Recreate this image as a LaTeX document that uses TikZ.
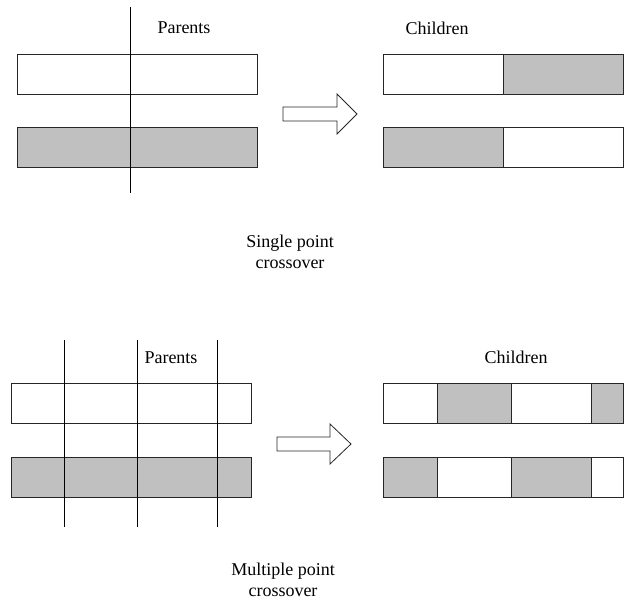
\documentclass[tikz,border=0pt]{standalone}
\usepackage{fontspec}
\setmainfont{Liberation Serif}
\begin{document}
\begin{tikzpicture}[x=1pt,y=-1pt,
  cell/.style={draw=black!85,line width=0.8pt,inner sep=0pt,outer sep=0pt,minimum height=40pt},
  wh/.style={cell,fill=white},
  cut/.style={draw=black,line width=0.8pt},
  bigarrow/.style={draw=black!85,line width=0.8pt,fill=white},
  lbl/.style={font=\fontsize{18}{21}\selectfont,align=center,inner sep=0pt}]
\useasboundingbox (0,0) rectangle (628,601);
\definecolor{cellgray}{HTML}{C0C0C0}
\tikzset{gr/.style={cell,fill=cellgray}}
% ---- single point ----
\node[wh,minimum width=240pt] (sp1) at (137,74) {};
\node[gr,minimum width=240pt] (sp2) at (137,147) {};
\coordinate (sct) at (130,7);
\coordinate (scb) at (130,193);
\draw[cut] (sct) -- (scb);
\node[lbl] (spar) at (184,28) {Parents};
\node[wh,minimum width=120pt] (sc1a) at (443,74) {};
\node[gr,minimum width=120pt] (sc1b) at (563,74) {};
\node[gr,minimum width=120pt] (sc2a) at (443,147) {};
\node[wh,minimum width=120pt] (sc2b) at (563,147) {};
\node[lbl] (schi) at (437,28) {Children};
\draw[bigarrow] (283,107) -- (337,107) -- (337,94) -- (357,114) -- (337,134) -- (337,121) -- (283,121) -- cycle;
\node[lbl] (stitle) at (290,252) {Single point\\crossover};
% ---- multiple point ----
\node[wh,minimum width=240pt] (mp1) at (131,403.5) {};
\node[gr,minimum width=240pt] (mp2) at (131,477) {};
\foreach \xx/\nm in {64/a,137/b,217/c}{
  \coordinate (mt\nm) at (\xx,340);
  \coordinate (mb\nm) at (\xx,527);
  \draw[cut] (mt\nm) -- (mb\nm);
}
\node[lbl] (mpar) at (171,358) {Parents};
% children row 1
\node[wh,minimum width=54pt] (m1a) at (410,403.5) {};
\node[gr,minimum width=74pt] (m1b) at (474,403.5) {};
\node[wh,minimum width=80pt] (m1c) at (551,403.5) {};
\node[gr,minimum width=32pt] (m1d) at (607,403.5) {};
% children row 2
\node[gr,minimum width=54pt] (m2a) at (410,477) {};
\node[wh,minimum width=74pt] (m2b) at (474,477) {};
\node[gr,minimum width=80pt] (m2c) at (551,477) {};
\node[wh,minimum width=32pt] (m2d) at (607,477) {};
\node[lbl] (mchi) at (516,357) {Children};
\draw[bigarrow] (277,437) -- (330,437) -- (330,424) -- (351,444) -- (330,464) -- (330,451) -- (277,451) -- cycle;
\node[lbl] (mtitle) at (283,580) {Multiple point\\crossover};
\end{tikzpicture}
\end{document}
